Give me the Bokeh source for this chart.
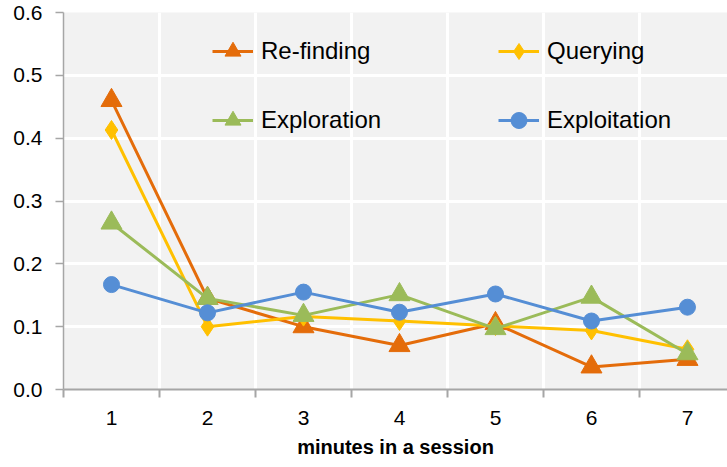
from bokeh.plotting import figure
from bokeh.models import (FixedTicker, NumeralTickFormatter, Legend, LegendItem,
                          Range1d)
from bokeh.embed import file_html
from bokeh.resources import INLINE

minutes = [1, 2, 3, 4, 5, 6, 7]
refinding = [0.460, 0.145, 0.100, 0.070, 0.105, 0.036, 0.048]
querying = [0.413, 0.100, 0.116, 0.109, 0.101, 0.094, 0.064]
exploration = [0.265, 0.145, 0.118, 0.151, 0.097, 0.147, 0.057]
exploitation = [0.167, 0.122, 0.155, 0.123, 0.152, 0.109, 0.131]
series_names = ["Re-finding", "Querying", "Exploration", "Exploitation"]
y_ticks = [0.0, 0.1, 0.2, 0.3, 0.4, 0.5, 0.6]

FONT = "Liberation Sans"
colors = ["#E46C0A", "#FFC000", "#9BBB59", "#558ED5"]
markers = ["triangle", "diamond", "triangle", "circle"]
sizes = [21, 19, 21, 16]

p = figure(frame_width=664, frame_height=377, output_backend="svg",
           toolbar_location=None,
           x_range=Range1d(0.5, 7.417), y_range=Range1d(0, 0.6),
           min_border_left=63, min_border_right=0, min_border_top=12,
           min_border_bottom=60)
p.background_fill_color = "#F2F2F2"
p.border_fill_color = "white"
p.outline_line_color = None

# grids
p.xgrid.ticker = FixedTicker(ticks=[1.5, 2.5, 3.5, 4.5, 5.5, 6.5])
p.xgrid.grid_line_color = "white"
p.xgrid.grid_line_width = 3
p.ygrid.ticker = FixedTicker(ticks=y_ticks)
p.ygrid.grid_line_color = "white"
p.ygrid.grid_line_width = 3

# x axis
xa = p.xaxis[0]
xa.ticker = FixedTicker(ticks=minutes,
                        minor_ticks=[0.5, 1.5, 2.5, 3.5, 4.5, 5.5, 6.5, 7.5])
xa.major_tick_line_color = None
xa.major_tick_out = 0
xa.major_tick_in = 0
xa.minor_tick_line_color = "#A6A6A6"
xa.minor_tick_line_width = 2
xa.minor_tick_out = 8
xa.minor_tick_in = 0
xa.axis_line_color = "#A6A6A6"
xa.axis_line_width = 2
xa.major_label_text_font = FONT
xa.major_label_text_font_size = "21px"
xa.major_label_text_color = "black"
xa.major_label_standoff = 13
xa.axis_label = "minutes in a session"
xa.axis_label_text_font = FONT
xa.axis_label_text_font_size = "20px"
xa.axis_label_text_font_style = "bold"
xa.axis_label_text_color = "black"
xa.axis_label_standoff = 8

# y axis
ya = p.yaxis[0]
ya.ticker = FixedTicker(ticks=y_ticks)
ya.formatter = NumeralTickFormatter(format="0.0")
ya.minor_tick_line_color = None
ya.major_tick_line_color = "#A6A6A6"
ya.major_tick_line_width = 1.5
ya.major_tick_out = 8
ya.major_tick_in = 0
ya.axis_line_color = "#A6A6A6"
ya.axis_line_width = 1.5
ya.major_label_text_font = FONT
ya.major_label_text_font_size = "21px"
ya.major_label_text_color = "black"
ya.major_label_standoff = 13

data = [refinding, querying, exploration, exploitation]
items = []
for name, vals, c, m, s in zip(series_names, data, colors, markers, sizes):
    ln = p.line(minutes, vals, line_color=c, line_width=3)
    sc = p.scatter(minutes, vals, marker=m, size=s, fill_color=c, line_color=c)
    items.append(LegendItem(label=name, renderers=[ln, sc]))

legend = Legend(items=items, location=(149, 249), orientation="horizontal",
                ncols=2, padding=0, margin=0, spacing=29,
                glyph_width=41, glyph_height=40, label_height=40,
                label_width=208, label_standoff=8,
                label_text_font=FONT, label_text_font_size="24px",
                label_text_color="black",
                background_fill_alpha=0, border_line_color=None)
p.add_layout(legend, "center")

open("out.html", "w").write(file_html(p, INLINE))
